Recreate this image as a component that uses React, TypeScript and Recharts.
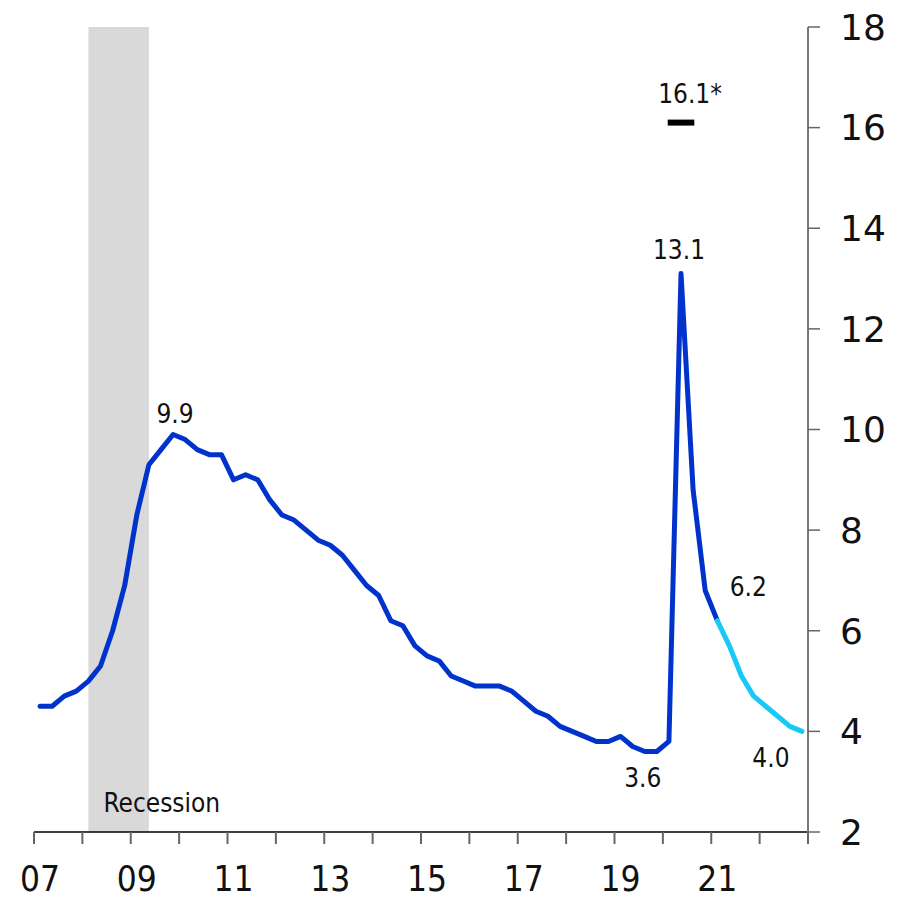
import { LineChart, Line, XAxis, YAxis, ReferenceArea, ReferenceLine, ReferenceDot } from "recharts";

// quarterly unemployment rate, %
const years = [2007, 2008, 2009, 2010, 2011, 2012, 2013, 2014, 2015, 2016, 2017, 2018, 2019, 2020, 2021, 2022];
const quarters = [1, 2, 3, 4];

const actual = [
  4.5, 4.5, 4.7, 4.8,
  5.0, 5.3, 6.0, 6.9,
  8.3, 9.3, 9.6, 9.9,
  9.8, 9.6, 9.5, 9.5,
  9.0, 9.1, 9.0, 8.6,
  8.3, 8.2, 8.0, 7.8,
  7.7, 7.5, 7.2, 6.9,
  6.7, 6.2, 6.1, 5.7,
  5.5, 5.4, 5.1, 5.0,
  4.9, 4.9, 4.9, 4.8,
  4.6, 4.4, 4.3, 4.1,
  4.0, 3.9, 3.8, 3.8,
  3.9, 3.7, 3.6, 3.6,
  3.8, 13.1, 8.8, 6.8,
  6.2,
];
// forecast starts at 2021Q1
const forecastStart = 56;
const forecast = [6.2, 5.7, 5.1, 4.7, 4.5, 4.3, 4.1, 4.0];

const xTicks = [2007, 2008, 2009, 2010, 2011, 2012, 2013, 2014, 2015, 2016, 2017, 2018, 2019, 2020, 2021, 2022, 2023];
const yTicks = [2, 4, 6, 8, 10, 12, 14, 16, 18];

const recession = { from: 2008.125, to: 2009.375 };
const monthlyPeak = { from: 2020.1, to: 2020.65, value: 16.1 };

const qt = (y: number, q: number) => y + (q - 0.5) / 4;

const data: { t: number; actual: number | null; forecast: number | null }[] = [];
years.forEach((y, yi) => {
  quarters.forEach((q, qi) => {
    const i = yi * 4 + qi;
    const f = i - forecastStart;
    data.push({
      t: qt(y, q),
      actual: i < actual.length ? actual[i] : null,
      forecast: f >= 0 && f < forecast.length ? forecast[f] : null,
    });
  });
});

const COND = '"DejaVu Sans Condensed", "DejaVu Sans", sans-serif';
const SANS = '"DejaVu Sans", Verdana, sans-serif';

const Tag = ({ viewBox, text, dx, dy }: any) => (
  <text x={viewBox.x + dx} y={viewBox.y + dy} textAnchor="middle" fontFamily={COND} fontStretch="condensed" fontSize={26} fill="#111">
    {text}
  </text>
);

const XTick = ({ x, y, payload }: any) => {
  const yr = payload.value;
  if (yr % 2 === 0 || yr > 2021) return <g />;
  return (
    <text x={x + 6} y={y + 25} textAnchor="middle" fontFamily={COND} fontStretch="condensed" fontSize={35} fill="#111">
      {String(yr).slice(2)}
    </text>
  );
};

const dots = [
  { x: qt(2009, 4), y: 9.9, text: "9.9", dx: 2, dy: -12 },
  { x: qt(2020, 2), y: 13.1, text: "13.1", dx: -2, dy: -15 },
  { x: qt(2020, 2), y: monthlyPeak.value, text: "16.1*", dx: 9, dy: -20 },
  { x: qt(2021, 1), y: 6.2, text: "6.2", dx: 31, dy: -25 },
  { x: qt(2022, 4), y: 4.0, text: "4.0", dx: -31, dy: 36 },
  { x: qt(2019, 3), y: 3.6, text: "3.6", dx: -2, dy: 35 },
];

export default function App() {
  return (
    <div style={{ position: "absolute", left: 0, top: 0, background: "#fff" }}>
      <LineChart width={905} height={900} data={data} margin={{ top: 27, right: 0, left: 34, bottom: 0 }}>
        <ReferenceArea
          x1={recession.from}
          x2={recession.to}
          y1={2}
          y2={18}
          fill="#d9d9d9"
          fillOpacity={1}
          stroke="none"
          label={(p: any) => (
            <text x={p.viewBox.x + 15} y={p.viewBox.y + p.viewBox.height - 20} fontFamily={COND} fontStretch="condensed" fontSize={26} fill="#111">
              Recession
            </text>
          )}
        />
        <XAxis
          dataKey="t"
          type="number"
          domain={[2007, 2023]}
          ticks={xTicks}
          interval={0}
          height={68}
          axisLine={{ stroke: "#000", strokeWidth: 1.5 }}
          tickLine={{ stroke: "#666", strokeWidth: 2 }}
          tickSize={12}
          tickMargin={22}
          tick={<XTick />}
        />
        <YAxis
          orientation="right"
          domain={[2, 18]}
          ticks={yTicks}
          interval={0}
          width={97}
          axisLine={{ stroke: "#777", strokeWidth: 2 }}
          tickLine={{ stroke: "#666", strokeWidth: 1.5 }}
          tickSize={12}
          tickMargin={20}
          tick={{ fontFamily: SANS, fontSize: 36, fill: "#111" }}
        />
        <ReferenceLine
          segment={[{ x: monthlyPeak.from, y: monthlyPeak.value }, { x: monthlyPeak.to, y: monthlyPeak.value }]}
          stroke="#000"
          strokeWidth={6}
        />
        <Line dataKey="actual" stroke="#0033cc" strokeWidth={5} dot={false} strokeLinecap="round" strokeLinejoin="round" isAnimationActive={false} connectNulls={false} />
        <Line dataKey="forecast" stroke="#18c8f5" strokeWidth={5} dot={false} strokeLinecap="round" strokeLinejoin="round" isAnimationActive={false} connectNulls={false} />
        {dots.map((d) => (
          <ReferenceDot key={d.text} x={d.x} y={d.y} r={0} fill="none" stroke="none" ifOverflow="visible" label={(p: any) => <Tag {...p} text={d.text} dx={d.dx} dy={d.dy} />} />
        ))}
      </LineChart>
    </div>
  );
}
